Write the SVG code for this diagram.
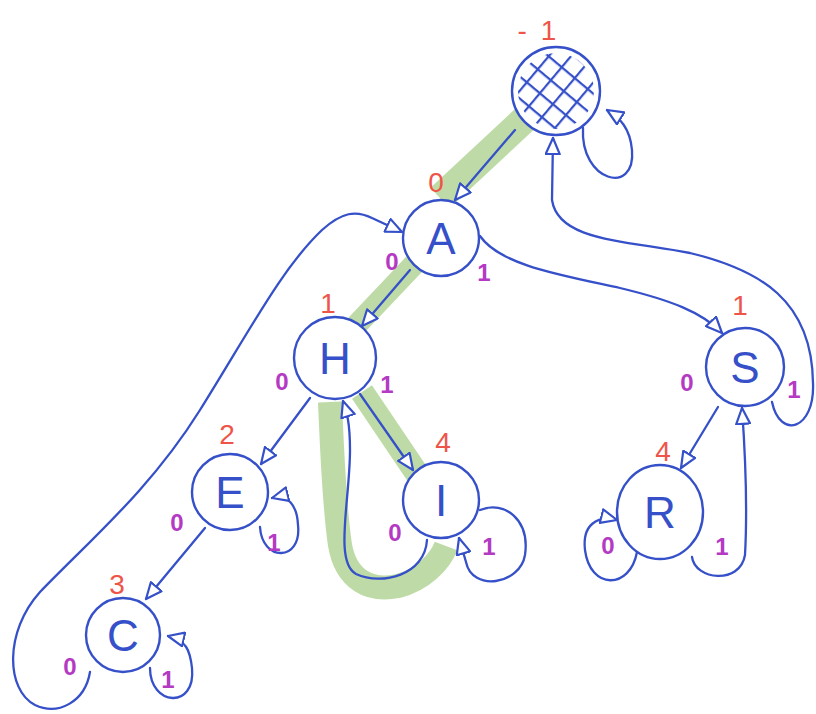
<svg xmlns="http://www.w3.org/2000/svg" width="816" height="714" viewBox="0 0 816 714">
  <style>
    .node { fill: #ffffff; stroke: #3550c8; stroke-width: 2.4; }
    .letter { font-family: "Liberation Sans", Arial, sans-serif; font-size: 44px; fill: #3550c8; text-anchor: middle; }
    .edge { fill: none; stroke: #3550c8; stroke-width: 2.3; stroke-linecap: round; marker-end: url(#arrow); }
    .hl { fill: none; stroke: #b3d598; stroke-opacity: 0.85; }
    .red { font-family: "Liberation Sans", Arial, sans-serif; font-size: 28px; fill: #ee5548; text-anchor: middle; }
    .pur { font-family: "Liberation Sans", Arial, sans-serif; font-size: 24px; fill: #b43ac4; text-anchor: middle; font-weight: bold; }
  </style>
  <defs>
    <marker id="arrow" viewBox="0 0 18 16" refX="17" refY="8" markerWidth="18" markerHeight="16" markerUnits="userSpaceOnUse" orient="auto">
      <path d="M1,1 L17,8 L1,15 Z" fill="#ffffff" stroke="#3550c8" stroke-width="2.2" stroke-linejoin="round"/>
    </marker>
    <pattern id="hatch" width="17" height="17" patternUnits="userSpaceOnUse" patternTransform="rotate(40 556 91)">
      <path d="M0 1 H17 M1 0 V17" stroke="#3550c8" stroke-width="2.4"/>
    </pattern>
  </defs>

  <rect width="816" height="714" fill="#ffffff"/>

  <g id="highlights">
    <path class="hl" stroke-width="28" d="M528 116 L440 198"/>
    <path class="hl" stroke-width="22" d="M422 256 L350 332"/>
    <path class="hl" stroke-width="24" d="M362 392 L420 478"/>
    <path class="hl" stroke-width="24" d="M330 402 C332 450 334 505 340 545 C346 580 370 592 398 586 C422 580 440 562 446 546"/>
  </g>

  <g id="connectors">
    <path class="edge" d="M515 130 L455 200"/>
    <path class="edge" d="M583 128 C580 182 636 196 632 150 C630 128 620 118 607 110"/>
    <path class="edge" d="M772 402 C780 440 815 430 813 383 C812 300 760 270 690 253 C620 240 558 240 552 200 L553 138"/>
    <path class="edge" d="M90 672 C85 702 58 716 35 705 C6 690 4 632 40 592 C90 540 150 490 200 410 C250 330 282 268 322 230 C342 212 356 210 372 218 L402 232"/>
    <path class="edge" d="M410 270 L362 326"/>
    <path class="edge" d="M480 236 C500 265 560 275 620 288 C670 300 702 312 722 333"/>
    <path class="edge" d="M310 398 L261 464"/>
    <path class="edge" d="M360 394 L413 470"/>
    <path class="edge" d="M427 540 C425 575 382 586 356 574 C334 562 350 500 350 450 C350 420 346 410 343 401"/>
    <path class="edge" d="M260 527 C262 562 302 562 298 525 C297 505 288 494 272 498"/>
    <path class="edge" d="M205 528 L146 599"/>
    <path class="edge" d="M150 668 C150 706 196 710 192 668 C190 650 186 640 168 636"/>
    <path class="edge" d="M480 510 C505 500 530 520 525 555 C520 585 472 592 466 562 L459 538"/>
    <path class="edge" d="M718 407 L681 468"/>
    <path class="edge" d="M637 552 C630 590 590 590 585 550 C582 525 597 515 617 520"/>
    <path class="edge" d="M692 557 C695 580 740 585 745 555 C748 500 745 450 742 408"/>
  </g>

  <g id="node-root">
    <circle class="node" cx="556" cy="91" r="44"/>
    <circle cx="556" cy="91" r="38" fill="url(#hatch)"/>
    <text class="red" x="544" y="40" font-size="40" letter-spacing="14">-1</text>
  </g>
  <g id="node-A">
    <circle class="node" cx="441" cy="238" r="38"/>
    <text class="letter" x="441" y="254">A</text>
    <text class="red" x="436" y="192" font-size="24">0</text>
    <text class="pur" x="392" y="270">0</text>
    <text class="pur" x="484" y="281">1</text>
  </g>
  <g id="node-H">
    <circle class="node" cx="335" cy="358" r="41"/>
    <text class="letter" x="335" y="374">H</text>
    <text class="red" x="328" y="313">1</text>
    <text class="pur" x="282" y="390">0</text>
    <text class="pur" x="387" y="393">1</text>
  </g>
  <g id="node-E">
    <circle class="node" cx="230" cy="492" r="38"/>
    <text class="letter" x="230" y="508">E</text>
    <text class="red" x="227" y="444">2</text>
    <text class="pur" x="177" y="531">0</text>
    <text class="pur" x="274" y="551">1</text>
  </g>
  <g id="node-I">
    <circle class="node" cx="441" cy="500" r="38"/>
    <text class="letter" x="441" y="516">I</text>
    <text class="red" x="443" y="452">4</text>
    <text class="pur" x="395" y="541">0</text>
    <text class="pur" x="489" y="555">1</text>
  </g>
  <g id="node-C">
    <circle class="node" cx="123" cy="635" r="37"/>
    <text class="letter" x="123" y="651">C</text>
    <text class="red" x="117" y="594">3</text>
    <text class="pur" x="70" y="675">0</text>
    <text class="pur" x="168" y="688">1</text>
  </g>
  <g id="node-S">
    <circle class="node" cx="745" cy="367" r="39"/>
    <text class="letter" x="745" y="383">S</text>
    <text class="red" x="740" y="315">1</text>
    <text class="pur" x="687" y="391">0</text>
    <text class="pur" x="794" y="398">1</text>
  </g>
  <g id="node-R">
    <ellipse class="node" cx="660" cy="512" rx="43" ry="47"/>
    <text class="letter" x="660" y="528">R</text>
    <text class="red" x="663" y="461">4</text>
    <text class="pur" x="608" y="554" font-size="18">0</text>
    <text class="pur" x="722" y="555">1</text>
  </g>
</svg>
